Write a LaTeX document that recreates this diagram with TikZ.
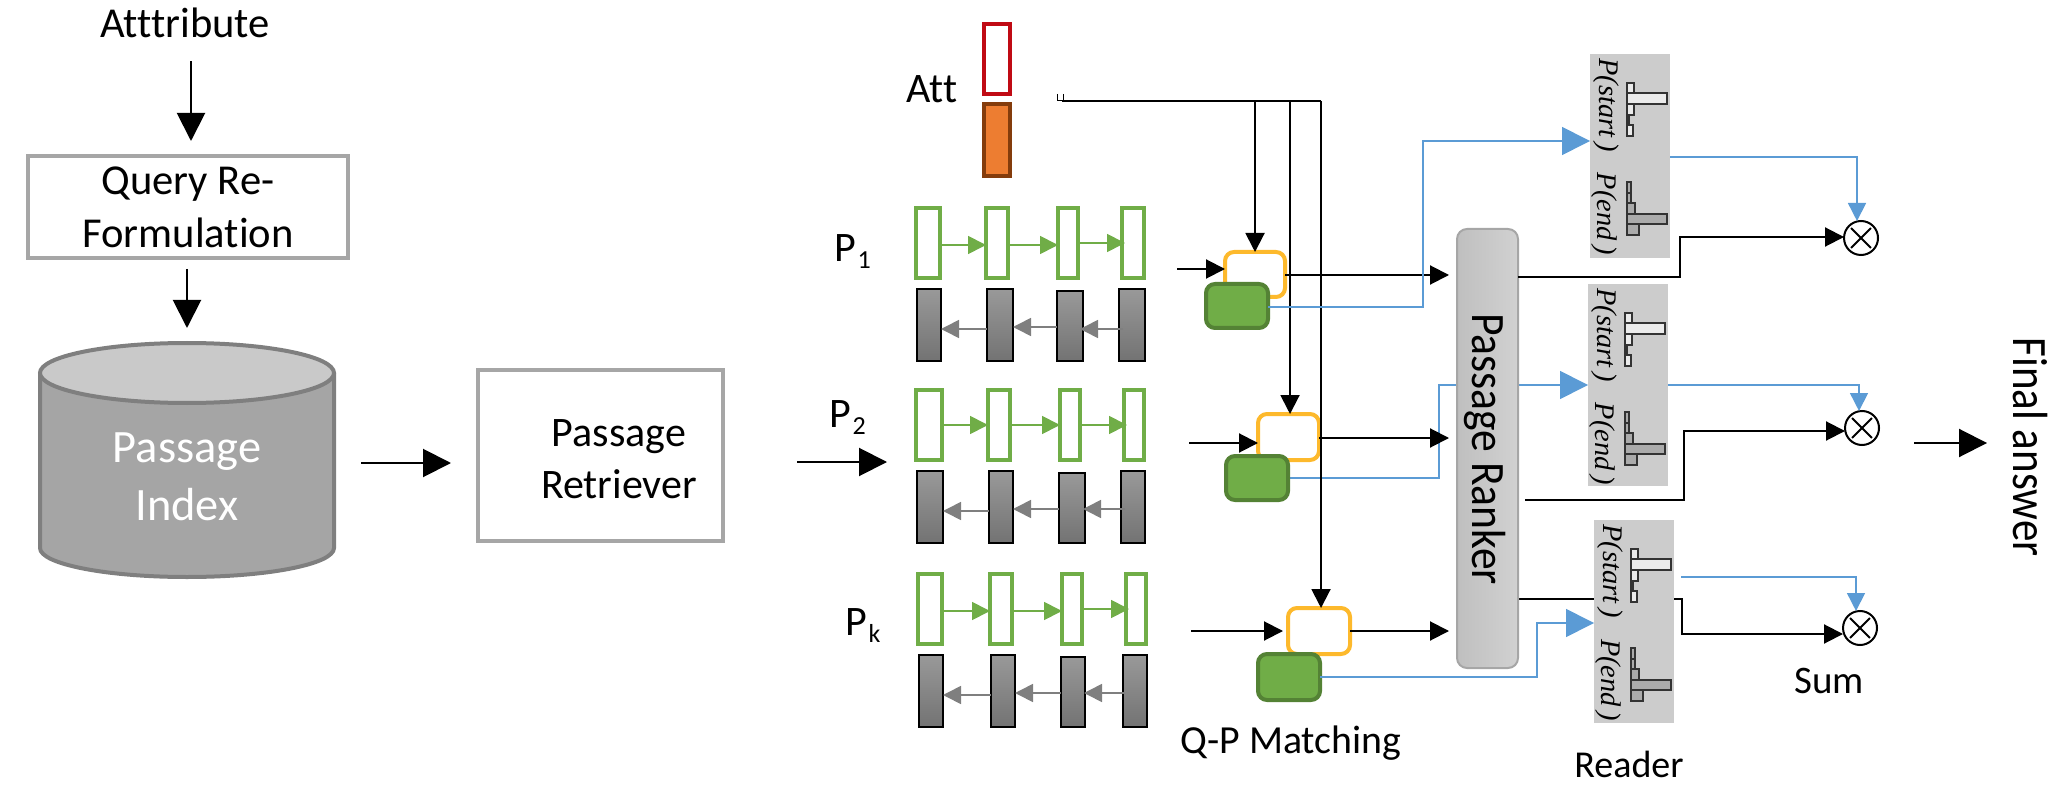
\documentclass[tikz,border=0pt]{standalone}
\usepackage{fontspec}
\setmainfont{Carlito}[Ligatures=NoCommon]
\newfontfamily\histfont{Liberation Serif}
\usetikzlibrary{arrows.meta, backgrounds}

\definecolor{boxgray}{HTML}{A6A6A6}
\definecolor{cylline}{HTML}{7F7F7F}
\definecolor{cylbody}{HTML}{A5A5A5}
\definecolor{cyltop}{HTML}{C9C9C9}
\definecolor{attred}{HTML}{C00A14}
\definecolor{attorange}{HTML}{ED7D31}
\definecolor{attbrown}{HTML}{843C0C}
\definecolor{cellgreen}{HTML}{70AD47}
\definecolor{matchgreen}{HTML}{548235}
\definecolor{matchyellow}{HTML}{FDB92C}
\definecolor{lineblue}{HTML}{5B9BD5}
\definecolor{panelgray}{HTML}{CCCCCC}

\begin{document}
\begin{tikzpicture}[
  x=0.5pt, y=-0.5pt,
  every node/.style={inner sep=0pt, outer sep=0pt},
  spans/.style args={#1,#2,#3,#4}{at={({(#1+#3)/2},{(#2+#4)/2})},
                  minimum width={(#3-#1)*0.5pt}, minimum height={(#4-#2)*0.5pt}},
  lbl/.style={font=\fontsize{#1}{#1}\selectfont\setlength\baselineskip{1.24\baselineskip}, align=center},
  wbox/.style={rectangle, draw=boxgray, line width=2pt},
  gcell/.style={rectangle, draw=cellgreen, line width=1.7pt},
  kcell/.style={rectangle, draw=black, line width=1pt, top color=black!40, bottom color=black!55},
  ycell/.style={rectangle, rounded corners=4.5pt, draw=matchyellow, fill=white, line width=2pt},
  mcell/.style={rectangle, rounded corners=4.5pt, draw=matchgreen, fill=cellgreen, line width=2pt},
  panel/.style={rectangle, fill=panelgray},
  bar/.style={draw=black!80, line width=0.6pt},
  htxt/.style={rotate=-90, anchor=base, font=\histfont\itshape\fontsize{14.2}{14.2}\selectfont},
  sumop/.style={circle, draw=black, line width=1pt, minimum size=17pt},
  arr/.style={-{Triangle[length=14pt, width=14pt]}, line width=1pt},
  sarr/.style={-{Triangle[length=9.5pt, width=9.5pt]}, line width=1pt},
  barr/.style={-{Triangle[length=14pt, width=14pt]}, line width=0.8pt, lineblue},
  sbarr/.style={-{Triangle[length=9pt, width=9pt]}, line width=0.8pt, lineblue},
  garr/.style={-{Triangle[length=9pt, width=9pt]}, line width=0.85pt, cellgreen},
  karr/.style={-{Triangle[length=9pt, width=9pt]}, line width=0.85pt, cylline},
]
\useasboundingbox (0,0) rectangle (2054,796);

% Query side
\node[lbl=21.3, anchor=base] (attr) at (185,38) {Atttribute};
\node[wbox, lbl=21.3, spans={28,156,348,258}] (qbox) {Query Re-\\Formulation};
\draw[wbox, fill=cylbody, draw=cylline] (40,373) -- (40,548)
  arc[start angle=180, end angle=360, x radius=73.5pt, y radius=14.5pt] -- (334,373);
\draw[wbox, fill=cyltop, draw=cylline] (187,373) ellipse [x radius=73.5pt, y radius=15pt];
\node[spans={40,343,334,577}] (cyl) {};
\node[lbl=23.2, white] (cyltxt) at (187,477) {Passage\\Index};
\node[wbox, spans={478,370,723,541}] (retr) {};
\node[lbl=21] (retrtxt) at (619,459) {Passage\\Retriever};

\draw[arr, shorten <=11.5pt, shorten >=7.5pt] (191,0 |- attr.south) -- (191,0 |- qbox.north);
\draw[arr, shorten <=5.5pt, shorten >=7.5pt] (187,0 |- qbox.south) -- (187,0 |- cyl.north);
\draw[arr, shorten <=13.5pt, shorten >=13.5pt] (cyl.east |- 0,463) -- (retr.west |- 0,463);

% Attribute cells
\node[lbl=21, anchor=base] (att) at (932,103) {Att};
\node[rectangle, draw=attred, line width=1.7pt, spans={984,24,1010,94}] (attq) {};
\node[rectangle, draw=attbrown, fill=attorange, line width=1.7pt, spans={984,104,1010,176}] (atte) {};

% Passage labels
\node[lbl=21, anchor=base west] (pa) at (834,262) {P\kern1pt\raisebox{-3.5pt}{\fontsize{13}{13}\selectfont 1}};
\node[lbl=21, anchor=base west] (pb) at (829,427) {P\kern1pt\raisebox{-3.5pt}{\fontsize{13}{13}\selectfont 2}};
\node[lbl=21, anchor=base west] (pc) at (845,635) {P\kern1pt\raisebox{-3.5pt}{\fontsize{13}{13}\selectfont k}};

% Passage 1
\foreach \n/\xa/\xb in {1/916/940,2/986/1008,3/1058/1078,4/1122/1144}
  \node[gcell, spans={\xa,208,\xb,278}] (ga\n) {};
\foreach \n/\xa/\xb/\ya in {1/917/941/289,2/987/1013/289,3/1057/1083/291,4/1119/1145/289}
  \node[kcell, spans={\xa,\ya,\xb,361}] (ka\n) {};
\draw[garr] (ga1.east |- 0,245) -- (ga2.west |- 0,245);
\draw[garr] (ga2.east |- 0,245) -- (ga3.west |- 0,245);
\draw[garr, shorten >=-1.5pt] (ga3.east |- 0,243) -- (ga4.west |- 0,243);
\draw[karr] (ka2.west |- 0,329) -- (ka1.east |- 0,329);
\draw[karr] (ka3.west |- 0,327) -- (ka2.east |- 0,327);
\draw[karr, shorten <=-2pt, shorten >=-1.5pt] (ka4.west |- 0,329) -- (ka3.east |- 0,329);

% Passage 2
\foreach \n/\xa/\xb in {1/916/942,2/988/1010,3/1060/1080,4/1124/1144}
  \node[gcell, spans={\xa,390,\xb,460}] (gb\n) {};
\foreach \n/\xa/\xb/\ya in {1/917/943/471,2/989/1013/471,3/1059/1085/473,4/1121/1145/471}
  \node[kcell, spans={\xa,\ya,\xb,543}] (kb\n) {};
\draw[garr] (gb1.east |- 0,425) -- (gb2.west |- 0,425);
\draw[garr] (gb2.east |- 0,425) -- (gb3.west |- 0,425);
\draw[garr, shorten >=-1.5pt] (gb3.east |- 0,425) -- (gb4.west |- 0,425);
\draw[karr] (kb2.west |- 0,511) -- (kb1.east |- 0,511);
\draw[karr] (kb3.west |- 0,509) -- (kb2.east |- 0,509);
\draw[karr, shorten <=-2pt, shorten >=-1pt] (kb4.west |- 0,509) -- (kb3.east |- 0,509);
\draw[arr, shorten <=37pt, shorten >=14.5pt] (retr.east |- 0,462) -- (gb1.west |- 0,462);

% Passage k
\foreach \n/\xa/\xb in {1/918/942,2/990/1012,3/1062/1082,4/1126/1146}
  \node[gcell, spans={\xa,574,\xb,644}] (gc\n) {};
\foreach \n/\xa/\xb/\ya in {1/919/943/655,2/991/1015/655,3/1061/1085/657,4/1123/1147/655}
  \node[kcell, spans={\xa,\ya,\xb,727}] (kc\n) {};
\draw[garr] (gc1.east |- 0,611) -- (gc2.west |- 0,611);
\draw[garr] (gc2.east |- 0,611) -- (gc3.west |- 0,611);
\draw[garr, shorten >=-1.5pt] (gc3.east |- 0,609) -- (gc4.west |- 0,609);
\draw[karr] (kc2.west |- 0,695) -- (kc1.east |- 0,695);
\draw[karr] (kc3.west |- 0,693) -- (kc2.east |- 0,693);
\draw[karr, shorten <=-1pt, shorten >=-0.5pt] (kc4.west |- 0,693) -- (kc3.east |- 0,693);

% Matching
\node[ycell, spans={1225,252,1285,297}] (ma) {};
\node[mcell, spans={1206,284,1268,328}] (na) {};
\node[ycell, spans={1258,414,1319,460}] (mb) {};
\node[mcell, spans={1226,456,1288,500}] (nb) {};
\node[ycell, spans={1288,608,1350,654}] (mc) {};
\node[mcell, spans={1258,654,1320,700}] (nc) {};
\node[lbl=19.9, anchor=base] (qpm) at (1291,753) {Q-P Matching};

% Att bus
\coordinate (bus) at (1062,101);
\draw[line width=0.5pt] (1057,94) -- (1057,101) -- (bus) (1063,94) -- (1063,101);
\draw[line width=1.1pt] (bus) -- (1321,0 |- bus);
\draw[sarr] (ma.north |- bus) -- (ma.north);
\draw[sarr] (1290,0 |- bus) -- (1290,0 |- mb.north);
\draw[sarr] (1321,0 |- bus) -- (1321,0 |- mc.north);

\coordinate (ina) at (1177,269);
\coordinate (inb) at (1189,443);
\coordinate (inc) at (1191,631);
\draw[sarr] (ina) -- (ma.west |- ina);
\draw[sarr] (inb) -- (mb.west |- inb);
\draw[sarr, shorten >=2.5pt] (inc) -- (mc.west |- inc);

% Ranker
\node[rectangle, rounded corners=5pt, draw=boxgray, line width=1pt, left color=black!25,
      right color=black!18, spans={1457,229,1518,668}] (ranker) {};
\node[lbl=21.8, rotate=-90, anchor=base] (rankertxt) at (1472,449) {\scalebox{1}[1.1]{Passage Ranker}};
\draw[sarr, shorten >=4pt] (ma.east |- 0,275) -- (ranker.west |- 0,275);
\draw[sarr, shorten >=4pt] (mb.east |- 0,438) -- (ranker.west |- 0,438);
\draw[sarr, shorten >=4pt] (mc.east |- 0,631) -- (ranker.west |- 0,631);

% Reader panels
\node[panel, spans={1590,54,1670,258}] (ra) {};
\node[panel, spans={1588,284,1668,486}] (rb) {};
\node[panel, spans={1594,520,1674,723}] (rc) {};
\foreach \rd in {ra,rb,rc} {
  \begin{scope}[shift={(\rd.north west)}]
    \node[htxt] (\rd s) at (9,51) {P(start\,)};
    \node[htxt] (\rd e) at (7,160) {P(end\,)};
    \foreach \ya/\yb/\w in {29/39/7,39/50/40,50/61/7,61/71/2,71/82/6}
      \draw[bar, fill=black!8] (37,\ya) rectangle ({37+\w},\yb);
    \foreach \ya/\yb/\w in {128/139/4,139/149/4,149/160/8,160/170/40,170/181/12}
      \draw[bar, fill=black!33] (37,\ya) rectangle ({37+\w},\yb);
  \end{scope}
}
\node[lbl=19, anchor=base] (readertxt) at (1629,777) {Reader};

% Sum
\node[sumop] (sa) at (1861,238) {};
\node[sumop] (sb) at (1862,428) {};
\node[sumop] (sc) at (1860,628) {};
\foreach \s in {sa,sb,sc} {
  \draw[line width=1pt, shorten <=1.5pt, shorten >=1.5pt] (\s.45) -- (\s.225);
  \draw[line width=1pt, shorten <=1.5pt, shorten >=1.5pt] (\s.135) -- (\s.315);
}
\node[lbl=19.5, anchor=base] (sumtxt) at (1829,693) {Sum};

% Matching to reader
\draw[barr] (na.east |- 0,307) -- (1423,307) -- (1423,141) -- (ra.west |- 0,141);
\draw[barr] (nc.east |- 0,677) -- (1537,677) -- (1537,623) -- (rc.west |- 0,623);
\begin{scope}[on background layer]
  \draw[barr] (nb.east |- 0,478) -- (1439,478) -- (1439,385) -- (rb.west |- 0,385);
  \draw[sarr] (ranker.east |- 0,599) -- (1682,599) -- (1682,634) -- (sc.west |- 0,634);
\end{scope}

% Reader to sum
\draw[sbarr] (ra.east |- 0,157) -- (1857,157) -- (1857,0 |- sa.north);
\draw[sbarr] (rb.east |- 0,385) -- (1859,385) -- (1859,0 |- sb.north);
\draw[sbarr, shorten <=3.5pt] (rc.east |- 0,577) -- (1856,577) -- (1856,0 |- sc.north);
\draw[sarr] (ranker.east |- 0,277) -- (1680,277) -- (1680,237) -- (sa.west |- 0,237);
\draw[sarr, shorten <=3.5pt] (ranker.east |- 0,500) -- (1684,500) -- (1684,431) -- (sb.west |- 0,431);

% Final
\coordinate (finin) at (1987,443);
\node[lbl=21.5, rotate=-90, anchor=base] (fintxt) at (2013,447) {\scalebox{1}[1.15]{Final answer}};
\draw[arr, shorten <=17.5pt] (sb.east |- finin) -- (finin);

\end{tikzpicture}
\end{document}
